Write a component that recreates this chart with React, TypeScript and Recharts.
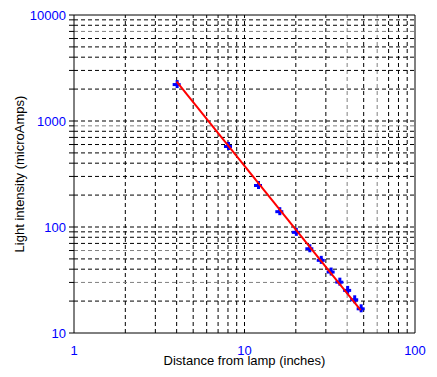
import React from 'react';
import { ScatterChart, Scatter, XAxis, YAxis, ReferenceLine, Label } from 'recharts';

const distances = [4, 8, 12, 16, 20, 24, 28, 32, 36, 40, 44, 48];
const intensities = [2230, 581, 249, 141, 90, 63, 49, 38, 30.5, 25.5, 20.8, 17.1];
const fitX = [4, 48];
const fitY = [2350, 16.4];

const xGrid = [2, 3, 4, 5, 6, 7, 8, 9, 10, 20, 30, 40, 50, 60, 70, 80, 90];
const yGrid = [20, 30, 40, 50, 60, 70, 80, 90, 100, 200, 300, 400, 500, 600, 700, 800, 900, 1000, 2000, 3000, 4000, 5000, 6000, 7000, 8000, 9000];
const xGrayLines = [40, 60];
const yGrayLines = [7000, 900, 60, 30];
const xTicks = [1, 10, 100];
const yTicks = [10, 20, 30, 40, 50, 60, 70, 80, 90, 100, 200, 300, 400, 500, 600, 700, 800, 900, 1000, 2000, 3000, 4000, 5000, 6000, 7000, 8000, 9000, 10000];
const yMajor = [10, 100, 1000, 10000];

const points = distances.map((x, i) => ({ x, y: intensities[i] }));
const fitLine = fitX.map((x, i) => ({ x, y: fitY[i] }));

const FONT = '"Liberation Sans", Arial, sans-serif';

const Plus = (props: any) => {
  const { cx, cy } = props;
  if (cx == null || cy == null) return null;
  return (
    <g>
      <rect x={cx - 4} y={cy - 1} width={8} height={3} fill="#0000ff" />
      <rect x={cx - 1} y={cy - 4} width={3} height={8} fill="#0000ff" />
    </g>
  );
};

const YTick = (props: any) => {
  const { x, y, payload } = props;
  if (!yMajor.includes(payload.value)) return null;
  return (
    <text x={x - 1} y={y} dy={4.5} textAnchor="end" fill="#0000ff" fontSize={13} fontFamily={FONT}>
      {payload.value}
    </text>
  );
};

const XTick = (props: any) => {
  const { x, y, payload } = props;
  return (
    <text x={x} y={y} dy={14} textAnchor="middle" fill="#0000ff" fontSize={13} fontFamily={FONT}>
      {payload.value}
    </text>
  );
};

export default function App() {
  return (
    <div style={{ position: 'absolute', left: 0, top: 0, width: 437, height: 377, background: '#fff' }}>
      <ScatterChart width={437} height={377} margin={{ top: 15, right: 22, bottom: 0, left: 0 }}>
        <XAxis
          type="number"
          dataKey="x"
          scale="log"
          domain={[1, 100]}
          ticks={xTicks}
          allowDataOverflow
          height={44}
          tickLine={false}
          axisLine={{ stroke: '#000', strokeWidth: 1 }}
          tick={<XTick />}
          interval={0}
        >
          <Label
            content={(p: any) => {
              const vb = p.viewBox;
              return (
                <text x={vb.x + vb.width / 2} y={365} textAnchor="middle" fontSize={13} fontFamily={FONT} fill="#000">
                  Distance from lamp (inches)
                </text>
              );
            }}
          />
        </XAxis>
        <YAxis
          type="number"
          dataKey="y"
          scale="log"
          domain={[10, 10000]}
          ticks={yTicks}
          allowDataOverflow
          width={74}
          tickSize={5}
          tickLine={{ stroke: '#000' }}
          axisLine={{ stroke: '#000', strokeWidth: 1 }}
          tick={<YTick />}
          interval={0}
        >
          <Label
            content={(p: any) => {
              const vb = p.viewBox;
              const cy = vb.y + vb.height / 2;
              return (
                <text x={24} y={cy} transform={`rotate(-90 24 ${cy})`} textAnchor="middle" fontSize={13} fontFamily={FONT} fill="#000">
                  Light intensity (microAmps)
                </text>
              );
            }}
          />
        </YAxis>
        {xGrid.map((v) => (
          <ReferenceLine key={'x' + v} x={v} stroke={xGrayLines.includes(v) ? '#808080' : '#000'} strokeDasharray="4 3" strokeWidth={1} />
        ))}
        {yGrid.map((v) => (
          <ReferenceLine key={'y' + v} y={v} stroke={yGrayLines.includes(v) ? '#808080' : '#000'} strokeDasharray="4 3" strokeWidth={1} />
        ))}
        <ReferenceLine y={10000} stroke="#000" strokeWidth={1} />
        <ReferenceLine x={100} stroke="#000" strokeWidth={1} />
        <Scatter data={points} shape={<Plus />} isAnimationActive={false} />
        <Scatter
          data={fitLine}
          line={{ stroke: '#ff0000', strokeWidth: 2 }}
          shape={() => null}
          isAnimationActive={false}
        />
      </ScatterChart>
    </div>
  );
}
